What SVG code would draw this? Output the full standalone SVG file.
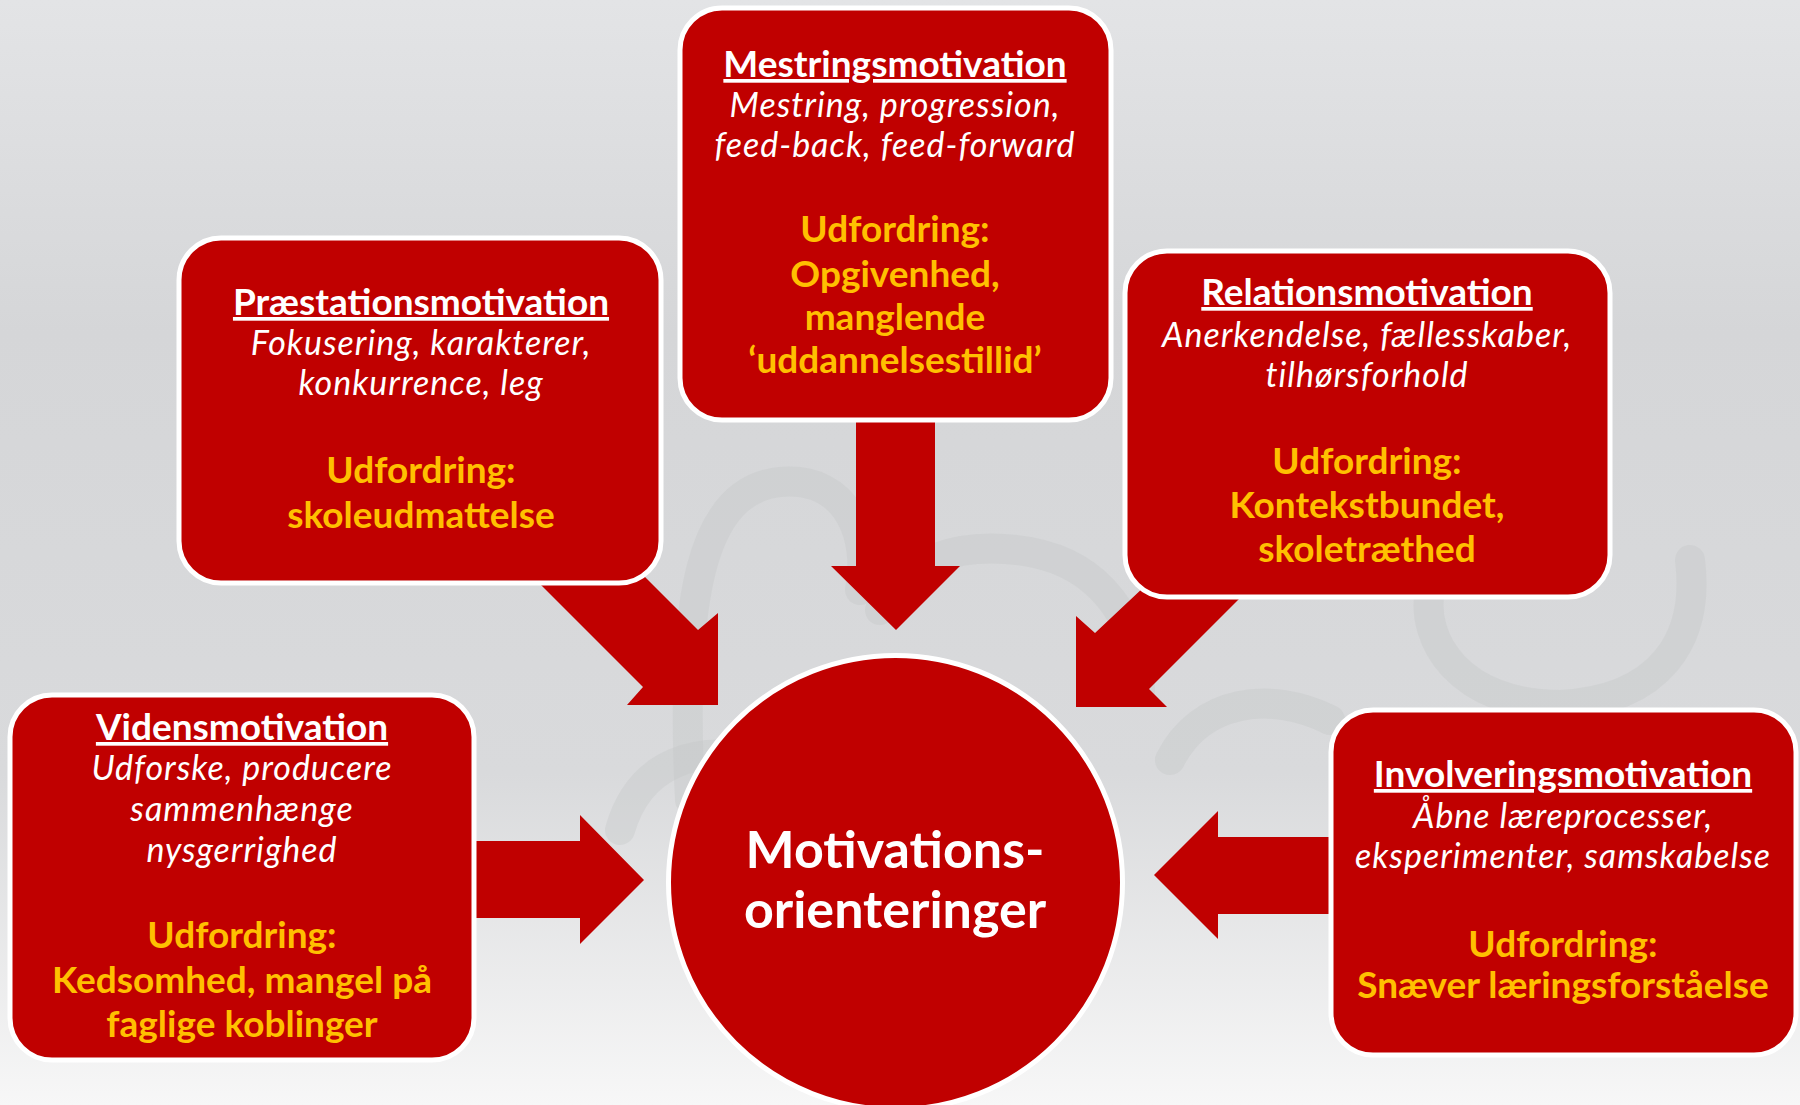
<svg xmlns="http://www.w3.org/2000/svg" width="1800" height="1105" viewBox="0 0 1800 1105">
  <defs>
    <linearGradient id="bg" x1="0" y1="0" x2="0" y2="1">
      <stop offset="0" stop-color="#e3e4e6"/>
      <stop offset="0.3" stop-color="#d5d6d8"/>
      <stop offset="0.7" stop-color="#d9dadc"/>
      <stop offset="1" stop-color="#f7f7f7"/>
    </linearGradient>
    <style>
      .box { fill: #c00000; stroke: #ffffff; stroke-width: 5; }
      .arrow { fill: #c00000; }
      .wm { fill: none; stroke: #c4c5c7; stroke-width: 30; opacity: 0.35; stroke-linecap: round; }
      text { font-family: Lato, "Open Sans", "Liberation Sans", sans-serif; text-anchor: middle; }
      .title { font-weight: bold; font-size: 37px; fill: #ffffff; text-decoration: underline; }
      .it { font-style: italic; font-size: 34px; letter-spacing: 1px; fill: #ffffff; }
      .ch { font-weight: bold; font-size: 37px; fill: #ffc000; }
      .center { font-weight: bold; font-size: 52px; fill: #ffffff; }
    </style>
  </defs>
  <rect x="0" y="0" width="1800" height="1105" fill="url(#bg)"/>

  <g id="watermark">
    <path class="wm" d="M690,800 C680,600 700,490 780,482 C850,476 870,540 860,590"/>
    <path class="wm" d="M880,610 C900,560 960,540 1030,552 C1100,565 1140,620 1140,690"/>
    <path class="wm" d="M1690,560 C1700,640 1660,700 1560,705 C1460,705 1420,640 1430,590"/>
    <path class="wm" d="M620,830 C640,760 700,745 760,760"/>
    <path class="wm" d="M1170,760 C1200,700 1270,690 1330,720"/>
  </g>

  <g id="connectors">
    <polygon class="arrow" points="516,560 628,560 698,630 718,613 718,705 627,705 643,687"/>
    <polygon class="arrow" points="856,415 935,415 935,566 960,566 896,630 831,566 856,566"/>
    <polygon class="arrow" points="1268,570 1162,570 1095,633 1076,616 1076,707 1167,707 1149,689"/>
    <polygon class="arrow" points="470,841 580,841 580,815 644,880 580,944 580,918 470,918"/>
    <polygon class="arrow" points="1340,837 1218,837 1218,811 1154,875 1218,939 1218,914 1340,914"/>
  </g>

  <g id="node-mestring">
    <rect class="box" x="680" y="8" width="431" height="412" rx="42"/>
    <text class="title" x="895" y="77">Mestringsmotivation</text>
    <text class="it" x="895" y="117">Mestring, progression,</text>
    <text class="it" x="895" y="157">feed-back, feed-forward</text>
    <text class="ch" x="895" y="242">Udfordring:</text>
    <text class="ch" x="895" y="287">Opgivenhed,</text>
    <text class="ch" x="895" y="330">manglende</text>
    <text class="ch" x="895" y="373">‘uddannelsestillid’</text>
  </g>

  <g id="node-praestation">
    <rect class="box" x="179" y="238" width="482" height="345" rx="42"/>
    <text class="title" x="421" y="315">Præstationsmotivation</text>
    <text class="it" x="421" y="355">Fokusering, karakterer,</text>
    <text class="it" x="421" y="395">konkurrence, leg</text>
    <text class="ch" x="421" y="483">Udfordring:</text>
    <text class="ch" x="421" y="528">skoleudmattelse</text>
  </g>

  <g id="node-relation">
    <rect class="box" x="1125" y="251" width="485" height="346" rx="42"/>
    <text class="title" x="1367" y="305">Relationsmotivation</text>
    <text class="it" x="1367" y="347">Anerkendelse, fællesskaber,</text>
    <text class="it" x="1367" y="387">tilhørsforhold</text>
    <text class="ch" x="1367" y="474">Udfordring:</text>
    <text class="ch" x="1367" y="518">Kontekstbundet,</text>
    <text class="ch" x="1367" y="562">skoletræthed</text>
  </g>

  <g id="node-videns">
    <rect class="box" x="10" y="695" width="464" height="365" rx="42"/>
    <text class="title" x="242" y="740">Vidensmotivation</text>
    <text class="it" x="242" y="780">Udforske, producere</text>
    <text class="it" x="242" y="821">sammenhænge</text>
    <text class="it" x="242" y="862">nysgerrighed</text>
    <text class="ch" x="242" y="948">Udfordring:</text>
    <text class="ch" x="242" y="993">Kedsomhed, mangel på</text>
    <text class="ch" x="242" y="1037">faglige koblinger</text>
  </g>

  <g id="node-involvering">
    <rect class="box" x="1331" y="710" width="465" height="345" rx="42"/>
    <text class="title" x="1563" y="787">Involveringsmotivation</text>
    <text class="it" x="1563" y="828">Åbne læreprocesser,</text>
    <text class="it" x="1563" y="868">eksperimenter, samskabelse</text>
    <text class="ch" x="1563" y="957">Udfordring:</text>
    <text class="ch" x="1563" y="998">Snæver læringsforståelse</text>
  </g>

  <g id="node-center">
    <circle class="box" cx="895.5" cy="882.5" r="227"/>
    <text class="center" x="895" y="868">Motivations-</text>
    <text class="center" x="895" y="928">orienteringer</text>
  </g>
</svg>
